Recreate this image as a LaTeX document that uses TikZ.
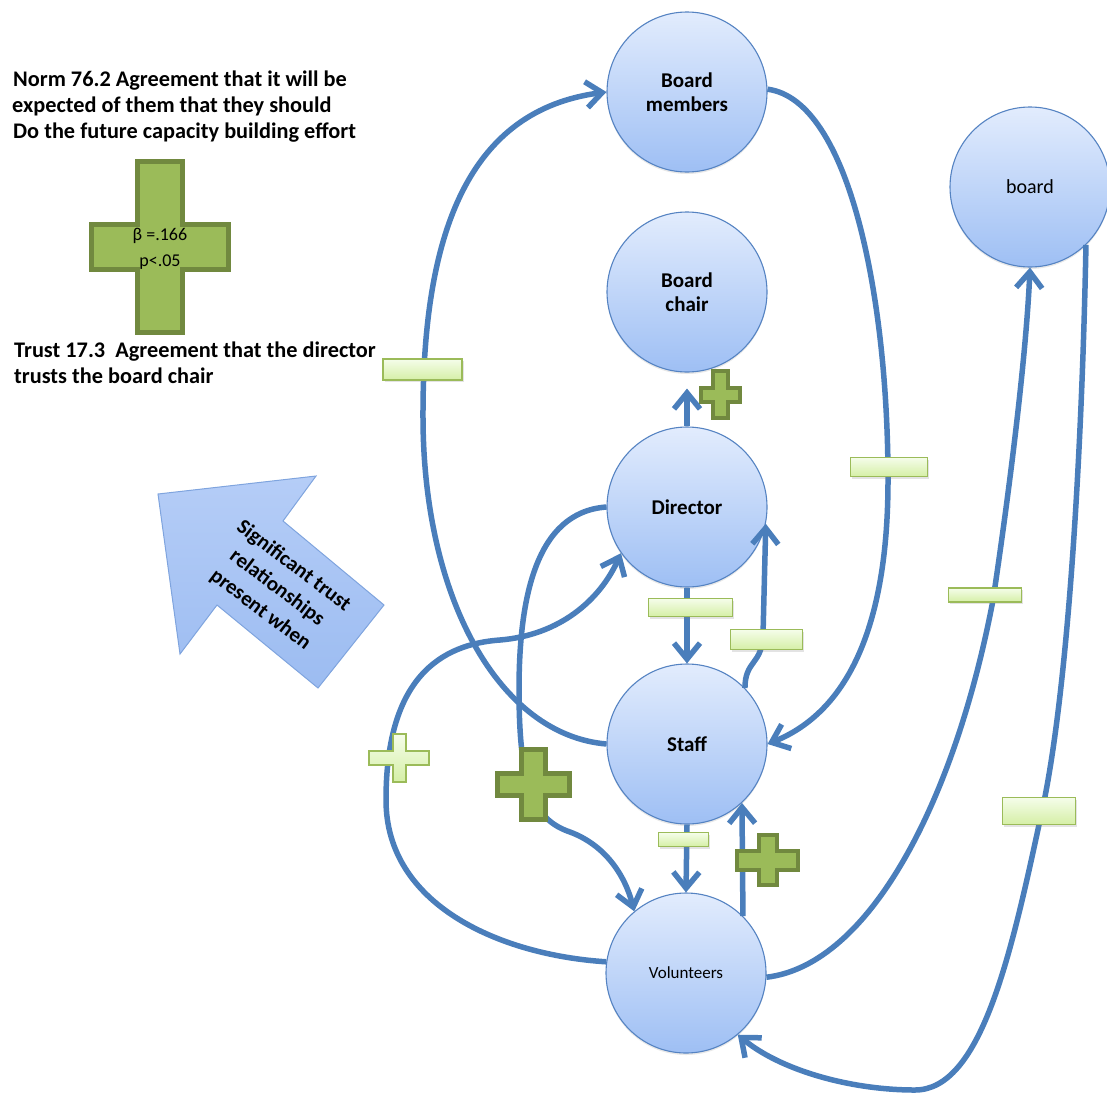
\documentclass[tikz,border=0pt]{standalone}
\usepackage{fontspec}
\setmainfont{Carlito}
\usetikzlibrary{arrows.meta,shadows}

\definecolor{linkblue}{HTML}{4A7EBB}
\definecolor{circleedge}{HTML}{5583C2}
\definecolor{circletop}{HTML}{E2ECFD}
\definecolor{circlebottom}{HTML}{9EBFF4}
\definecolor{mgreen}{HTML}{9BBB59}
\definecolor{mtop}{HTML}{F5FDEA}
\definecolor{mbottom}{HTML}{D5EFA6}
\definecolor{pfill}{HTML}{9BBB59}
\definecolor{pedge}{HTML}{71893F}
\definecolor{arrowtop}{HTML}{B5CDF7}
\definecolor{arrowbottom}{HTML}{9CBCF1}
\definecolor{arrowedge}{HTML}{7FA4DE}

% plus sign: [style]{cx}{cy}{half width}{half height}{half bar (vertical)}{half bar (horizontal)}
\newcommand{\plussign}[7][]{%
  \path[#1] (#2-#6,#3-#5) -- (#2+#6,#3-#5) -- (#2+#6,#3-#7) -- (#2+#4,#3-#7)
    -- (#2+#4,#3+#7) -- (#2+#6,#3+#7) -- (#2+#6,#3+#5) -- (#2-#6,#3+#5)
    -- (#2-#6,#3+#7) -- (#2-#4,#3+#7) -- (#2-#4,#3-#7) -- (#2-#6,#3-#7) -- cycle;}

\begin{document}
\begin{tikzpicture}[x=1pt,y=-1pt,
  actor/.style={circle, minimum size=160pt, inner sep=0pt, draw=circleedge,
    line width=1.1pt, top color=circletop, bottom color=circlebottom,
    align=center, font=\bfseries\fontsize{21}{24}\selectfont,
    drop shadow={shadow xshift=0pt, shadow yshift=-2pt, opacity=0.18}},
  link/.style={draw=linkblue, line width=5.5pt,
    -{Straight Barb[length=16pt, width=26pt]}},
  negbox/.style={rectangle, draw=mgreen, line width=1.5pt, top color=mtop,
    bottom color=mbottom, inner sep=0pt,
    drop shadow={shadow xshift=1.5pt, shadow yshift=-2pt, opacity=0.22}},
  darkplus/.style={draw=pedge, fill=pfill, line width=4pt},
  lightplus/.style={draw=mgreen, line width=2pt, top color=mtop, bottom color=mbottom},
  lefttext/.style={anchor=base west, inner sep=0pt, font=\bfseries\fontsize{22.3}{26}\selectfont},
]
\useasboundingbox (0,0) rectangle (1107,1095);

% actors
\node[actor] (bm) at (687,92) {Board\\members};
\node[actor] (bc) at (687,292) {Board\\chair};
\node[actor] (dir) at (687,507) {Director};
\node[actor] (staff) at (687,744) {Staff};
\node[actor, font=\fontsize{17}{20}\selectfont] (vol) at (686,973) {Volunteers};
\node[actor, font=\fontsize{20}{24}\selectfont] (board) at (1030,187) {board};

% legend text
\node[lefttext] (n1) at (13,86.5) {Norm 76.2 Agreement that it will be};
\node[lefttext] (n2) at (12,112.5) {expected of them that they should};
\node[lefttext] (n3) at (13,138.5) {Do the future capacity building effort};
\node[lefttext] (t1) at (14,357) {Trust 17.3\ \ Agreement that the director};
\node[lefttext] (t2) at (14,383) {trusts the board chair};

% legend plus with its coefficient
\plussign[darkplus, line width=5pt]{160}{247}{68.5}{85.5}{22.5}{22.5}
\node[font=\fontsize{18}{22}\selectfont, inner sep=0pt] (beta) at (160,236) {β =.166};
\node[font=\fontsize{18}{22}\selectfont, inner sep=0pt] (pval) at (160,262) {p<.05};

% block arrow
\path[draw=arrowedge, line width=1pt, top color=arrowtop, bottom color=arrowbottom]
  (158,494) -- (316,476) -- (283,521) -- (384,605) -- (318,688) -- (217,605) -- (180,654) -- cycle;
\node[rotate=-37, align=center, font=\bfseries\fontsize{21}{27.5}\selectfont] (sig) at (277,588)
  {Significant trust\\relationships\\present when};

% connectors
\draw[link] (staff.west) .. controls (500,735) and (424,600) .. (423,420)
  .. controls (422,230) and (470,110) .. (bm.west);
\draw[link] (bm.2) .. controls (850,100) and (888,300) .. (888,480)
  .. controls (888,640) and (840,715) .. (staff.east);
\draw[link, shorten >=16pt] (dir.north) -- (bc.south);
\draw[link] (dir.south) -- (staff.north);
\draw[link] (staff.44) .. controls (745,660) and (762,665) .. (763,635) -- (dir.-12);
\draw[link] (staff.south) -- (vol.north);
\draw[link] (vol.45) -- (staff.-47);
\draw[link] (dir.west) .. controls (535,512) and (519,600) .. (519,690)
  .. controls (519,790) and (535,820) .. (570,832)
  .. controls (605,845) and (625,875) .. (vol.130);
\draw[link] (vol.172) .. controls (500,955) and (386,905) .. (386,800)
  .. controls (386,690) and (430,645) .. (500,640)
  .. controls (560,635) and (600,600) .. (dir.215);
\draw[link] (vol.-3) .. controls (870,965) and (955,800) .. (993,600)
  .. controls (1008,500) and (1026,360) .. (board.south);
\draw[link] (board.-46) .. controls (1082,450) and (1068,700) .. (1040,820)
  .. controls (1010,960) and (980,1090) .. (915,1090)
  .. controls (850,1090) and (780,1070) .. (vol.-50);

% negative signs
\node[negbox, minimum width=79pt, minimum height=21pt] (m1) at (422.5,369.5) {};
\node[negbox, minimum width=77pt, minimum height=19pt] (m2) at (889,467) {};
\node[negbox, minimum width=73pt, minimum height=14pt] (m3) at (985,595) {};
\node[negbox, minimum width=73pt, minimum height=27pt] (m4) at (1039,811) {};
\node[negbox, minimum width=84pt, minimum height=18pt] (m5) at (690.5,607.5) {};
\node[negbox, minimum width=72pt, minimum height=20pt] (m6) at (766.5,639.5) {};
\node[negbox, minimum width=50pt, minimum height=14pt] (m7) at (683.5,839.5) {};

% positive signs
\plussign[darkplus]{720.5}{394.5}{19.5}{23.5}{7.5}{7}
\plussign[darkplus, line width=5pt]{533.5}{784.5}{36}{35}{12}{11}
\plussign[darkplus]{767.5}{860}{30.5}{25}{9}{9.5}
\plussign[lightplus]{399}{758}{30}{24}{6.5}{7}
\end{tikzpicture}
\end{document}
